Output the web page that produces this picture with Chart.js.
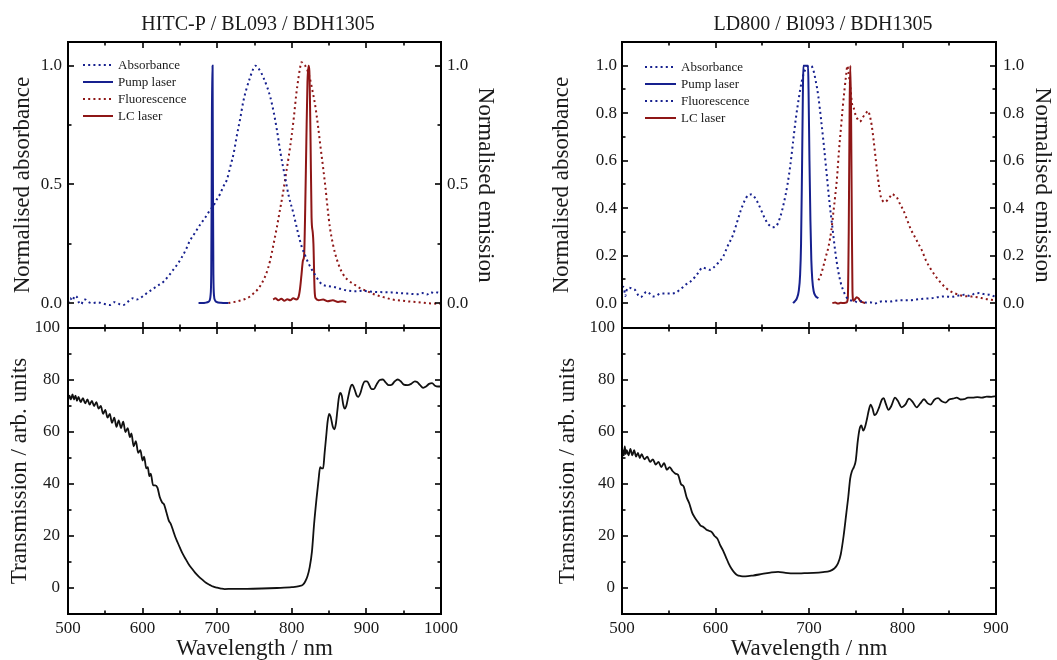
<!DOCTYPE html>
<html><head><meta charset="utf-8">
<script src="https://cdn.jsdelivr.net/npm/chart.js@4.4.1/dist/chart.umd.min.js"></script>
<style>
html,body{margin:0;padding:0;background:#fff;width:1057px;height:660px;overflow:hidden;}
canvas{position:absolute;left:0;top:0;}
</style></head><body>
<canvas id="cA" width="1057" height="660"></canvas>
<canvas id="cB" width="1057" height="660"></canvas>
<canvas id="cC" width="1057" height="660"></canvas>
<canvas id="cD" width="1057" height="660"></canvas>
<script>
// ---------------- DATA ----------------
const titleLeft = 'HITC-P / BL093 / BDH1305';
const titleRight = 'LD800 / Bl093 / BDH1305';
const seriesNames = ['Absorbance', 'Pump laser', 'Fluorescence', 'LC laser'];

// tick values
const wlTicksLeft = [500, 600, 700, 800, 900, 1000];
const wlMinorLeft = [550, 650, 750, 850, 950];
const wlTicksRight = [500, 600, 700, 800, 900];
const wlMinorRight = [550, 650, 750, 850];
const normTicksLeft = [0, 0.5, 1.0];
const normMinorLeft = [0.25, 0.75];
const normTicksRight = [0, 0.2, 0.4, 0.6, 0.8, 1.0];
const normMinorRight = [0.1, 0.3, 0.5, 0.7, 0.9];
const transTicks = [0, 20, 40, 60, 80, 100];
const transMinor = [-10, 10, 30, 50, 70, 90];

// left column (HITC-P): [wavelength nm, value]
const leftAbsorbance = [[500,0.00],[503,0.02],[506,0.01],[509,0.03],[512,0.025],[515,0.0],[518,-0.005],[520,0.01],[523,0.015],[527,0.005],[532,0.0],[540,0.003],[548,-0.003],[556,-0.008],[562,0.004],[566,0.0],[570,-0.006],[574,-0.008],[580,0.005],[587,0.02],[592,0.015],[601,0.03],[607,0.045],[614,0.06],[621,0.075],[628,0.09],[635,0.115],[641,0.14],[647,0.165],[652,0.19],[658,0.225],[663,0.26],[670,0.295],[677,0.33],[685,0.365],[690,0.39],[695,0.41],[700,0.44],[704,0.46],[708,0.49],[713,0.52],[718,0.58],[722,0.63],[726,0.70],[731,0.78],[735,0.85],[739,0.90],[744,0.95],[748,0.985],[751,1.0],[755,0.99],[759,0.97],[762,0.95],[767,0.91],[771,0.87],[776,0.80],[780,0.73],[785,0.63],[791,0.53],[796,0.45],[802,0.38],[808,0.30],[813,0.24],[818,0.20],[822,0.17],[827,0.14],[831,0.12],[836,0.095],[840,0.08],[848,0.072],[856,0.068],[865,0.06],[874,0.053],[885,0.05],[895,0.052],[901,0.05],[912,0.047],[923,0.046],[934,0.045],[945,0.042],[955,0.04],[962,0.038],[968,0.037],[975,0.042],[981,0.036],[986,0.046],[991,0.042],[995,0.045],[1000,0.042]];
const leftPump = [[675,0.0],[680,0.0],[685,0.002],[688,0.005],[690,0.012],[691,0.03],[692,0.12],[692.6,0.5],[693.2,1.0],[693.8,1.0],[694.3,0.5],[694.9,0.12],[695.8,0.03],[697,0.012],[699,0.005],[705,0.001],[715,0.0]];
const leftFluorescence = [[715,0.0],[722,0.004],[730,0.01],[738,0.018],[745,0.03],[750,0.045],[755,0.06],[760,0.085],[764,0.11],[768,0.145],[771,0.18],[775,0.24],[780,0.32],[784,0.39],[788,0.46],[792,0.54],[796,0.62],[800,0.71],[803,0.79],[806,0.88],[809,0.95],[811,0.99],[813,1.015],[815,1.01],[818,1.0],[821,0.98],[824,0.95],[828,0.89],[831,0.84],[835,0.75],[838,0.67],[842,0.57],[845,0.49],[848,0.40],[851,0.32],[855,0.25],[858,0.21],[863,0.16],[869,0.12],[876,0.095],[883,0.08],[892,0.062],[901,0.05],[912,0.035],[923,0.025],[935,0.015],[945,0.011],[956,0.007],[968,0.004],[980,0.0],[990,-0.002],[1000,-0.003]];
const leftLCLaser = [[775,0.015],[778,0.02],[782,0.012],[786,0.018],[790,0.01],[794,0.016],[798,0.012],[802,0.02],[806,0.015],[809,0.025],[811,0.06],[813,0.12],[815,0.18],[816.5,0.2],[818,0.4],[819.5,0.68],[821,0.93],[822.5,1.0],[823.5,0.98],[825,0.72],[826.5,0.36],[828,0.3],[829,0.25],[830.5,0.06],[832,0.02],[836,0.012],[842,0.015],[848,0.008],[855,0.012],[862,0.005],[868,0.008],[873,0.003]];
const leftTransmission = [[500,72],[502,74],[504,72.5],[506,74.5],[508,72.5],[510,74],[512,72],[514,73.5],[517,71.5],[520,73],[523,71],[526,72.5],[529,70.5],[532,72],[535,70],[538,71.5],[541,69],[544,70],[547,67],[550,68.5],[553,65.5],[556,67],[559,63.5],[562,65.5],[565,62],[568,64.5],[571,61.5],[574,64],[577,60],[580,61.5],[583,58],[585,59.5],[588,54.5],[591,56.5],[594,52],[597,53],[600,49],[602,50.5],[605,46],[607,46.5],[609,43],[611,44],[614,39.5],[617,39.5],[620,38.5],[623,35],[626,33],[629,32],[632,29],[635,26],[638,24.5],[641,22],[644,19.5],[647,17.5],[650,15.5],[654,13],[658,11],[662,9],[666,7.5],[670,6],[675,4.5],[680,3.2],[685,2],[690,1.2],[695,0.5],[700,0.1],[705,-0.2],[710,-0.4],[720,-0.3],[740,-0.3],[760,-0.2],[780,0],[800,0.3],[810,0.7],[815,1.3],[818,2.5],[821,4.5],[824,8],[827,14],[830,25],[833,34],[836,42],[838,46.5],[840,46],[842,46],[844,52],[846,58],[848,64],[850,67],[852,66],[855,62],[857,61],[859,63],[861,68],[863,73],[865,75],[867,74],[869,70.5],[871,69],[873,70],[876,74],[879,77.5],[881,78.2],[884,76.5],[887,74],[889,73.5],[892,75],[895,78],[898,79.5],[901,79.5],[904,78],[907,76.5],[910,76.5],[914,78.5],[918,80],[922,80.2],[926,79],[930,78],[934,78.2],[938,79.5],[942,80.2],[946,79.5],[950,78.2],[955,78],[960,78.5],[965,79.5],[968,79.2],[972,78],[976,77],[980,77.5],[984,78.5],[988,78.8],[992,77.8],[996,77.5],[1000,77.5]];

// right column (LD800)
const rightAbsorbance = [[500,0.07],[502,0.065],[503.5,0.03],[505,0.055],[508,0.065],[511,0.06],[514,0.055],[517,0.035],[520,0.025],[523,0.035],[526,0.048],[529,0.042],[533,0.028],[537,0.032],[541,0.04],[546,0.04],[552,0.04],[558,0.045],[563,0.06],[569,0.08],[573,0.09],[578,0.11],[582,0.13],[586,0.15],[590,0.145],[594,0.14],[598,0.15],[603,0.17],[608,0.195],[613,0.24],[619,0.29],[623,0.34],[627,0.39],[631,0.43],[635,0.455],[638,0.458],[641,0.45],[645,0.425],[649,0.39],[653,0.355],[657,0.33],[661,0.32],[665,0.325],[669,0.36],[673,0.42],[677,0.50],[680,0.58],[683,0.68],[686,0.78],[689,0.86],[692,0.93],[695,0.975],[698,0.995],[701,1.0],[704,0.99],[707,0.94],[710,0.87],[713,0.77],[716,0.66],[719,0.54],[722,0.42],[725,0.32],[728,0.22],[731,0.14],[734,0.085],[737,0.05],[740,0.025],[744,0.012],[748,0.01],[752,0.003],[756,0.008],[760,0.002],[765,0.004],[770,-0.002],[775,0.005],[780,0.008],[786,0.006],[792,0.01],[800,0.012],[808,0.012],[815,0.015],[822,0.018],[830,0.02],[838,0.025],[845,0.028],[852,0.026],[860,0.032],[866,0.035],[872,0.03],[877,0.04],[882,0.042],[887,0.038],[893,0.035],[897,0.03],[900,0.026]];
const rightPump = [[683,0.0],[685,0.008],[687,0.02],[689,0.05],[690.5,0.12],[691.5,0.25],[692.5,0.55],[693.5,0.9],[694,1.0],[699,1.0],[699.5,0.9],[700.5,0.6],[701.5,0.35],[702.5,0.18],[703.5,0.1],[705,0.05],[707,0.03],[710,0.02]];
const rightFluorescence = [[710,0.096],[712,0.11],[715,0.15],[718,0.195],[721,0.24],[724,0.31],[726,0.38],[728,0.45],[730,0.53],[732,0.64],[734,0.73],[736,0.82],[738,0.9],[740,0.97],[741,1.0],[742,0.98],[743,0.95],[744.5,0.90],[746,0.84],[748,0.82],[750,0.79],[752,0.775],[754,0.765],[756,0.77],[758,0.785],[761,0.8],[763,0.81],[765,0.79],[767,0.75],[769,0.69],[771,0.62],[773,0.55],[775,0.49],[777,0.445],[779,0.43],[781,0.425],[783,0.43],[785,0.44],[787,0.45],[789,0.46],[791,0.455],[794,0.445],[797,0.42],[801,0.39],[805,0.35],[809,0.31],[813,0.28],[817,0.25],[821,0.22],[825,0.18],[830,0.145],[835,0.115],[840,0.09],[846,0.065],[852,0.048],[858,0.038],[865,0.03],[872,0.028],[880,0.025],[888,0.018],[895,0.014],[900,0.011]];
const rightLCLaser = [[725,0.0],[728,0.002],[731,-0.002],[734,0.001],[737,0.0],[740,0.002],[741.5,0.02],[742.5,0.3],[743.5,0.85],[744.2,1.0],[745,0.8],[745.8,0.35],[746.5,0.05],[747.5,0.01],[749,0.015],[751,0.025],[753,0.02],[755,0.008],[757,0.004],[760,0.0]];
const rightTransmission = [[500,50],[501,53],[502,51],[503,54.5],[504,51.5],[505,53],[507,51],[509,53.5],[511,51],[513,53],[515,50.5],[517,52],[519,50],[521,51.5],[524,49.5],[527,50.5],[530,48.5],[533,49.5],[536,47.5],[539,48.5],[542,46.5],[545,48],[548,45.5],[551,46.5],[554,45],[557,44],[560,43.5],[563,40],[566,39],[569,35],[572,32.5],[575,29],[578,27],[581,25.5],[584,24],[587,23.5],[590,22.5],[593,22],[596,21.5],[599,20],[602,19],[605,16.5],[608,14.5],[611,12],[614,9.5],[617,7.5],[620,6],[623,5],[627,4.6],[632,4.5],[640,4.8],[650,5.4],[660,6],[667,6.2],[675,5.8],[685,5.6],[695,5.7],[705,5.8],[715,6.1],[722,6.5],[727,7.5],[731,9.5],[734,13],[737,20],[740,29],[742,35],[744,42],[746,45],[748,46.5],[750,49],[752,56],[754,61],[756,62.5],[758,60.5],[760,62],[762,65],[764,68.5],[766,70.5],[768,69],[770,66.5],[772,67],[775,69.5],[778,72.5],[780,73],[782,71],[785,68.5],[788,70],[792,73.2],[795,72],[799,69.5],[803,70.5],[807,72.8],[811,71.5],[815,69.5],[819,71],[823,72.6],[827,71],[830,70.5],[834,72.4],[838,73],[842,71.8],[846,71.3],[850,72.5],[854,72.8],[858,73.2],[862,72.5],[866,72.6],[870,73.2],[875,73.2],[880,73.4],[885,73.2],[890,73.6],[895,73.5],[900,73.8]];

// ---------------- STYLE / RENDER ----------------
const FONT = "'Liberation Serif', 'Times New Roman', serif";
const TXT = '#1a1a1a';
const BLUE = '#16208e';
const RED = '#8e1616';
const BLACK = '#111111';
const DOT = [2, 3.2];
Chart.defaults.font.family = FONT;
Chart.defaults.color = TXT;

const toXY = a => a.map(p => ({x: p[0], y: p[1]}));
function ds(label, arr, color, dash, axis, width) {
  return {label, data: toXY(arr), borderColor: color, backgroundColor: color,
    borderWidth: width || 2, borderDash: dash || [], pointRadius: 0, fill: false,
    cubicInterpolationMode: 'monotone', yAxisID: axis, borderCapStyle: 'butt'};
}
function yScale(pos, min, max, ticks, width, title, titlePad, tickPad, fmt) {
  return {type: 'linear', position: pos, min, max,
    afterBuildTicks: s => { s.ticks = ticks.map(v => ({value: v})); },
    afterFit: s => { s.width = width; },
    grid: {display: false, drawTicks: false}, border: {display: false},
    ticks: {padding: tickPad, color: TXT, font: {size: 17}, callback: fmt},
    title: {display: true, text: title, color: TXT, font: {size: 23}, padding: {top: titlePad, bottom: 0}}};
}
function xScale(min, max, ticks, show) {
  if (!show) return {type: 'linear', min, max, display: false};
  return {type: 'linear', position: 'bottom', min, max,
    afterBuildTicks: s => { s.ticks = ticks.map(v => ({value: v})); },
    afterFit: s => { s.height = 46; },
    grid: {display: false, drawTicks: false}, border: {display: false},
    ticks: {padding: 4, color: TXT, font: {size: 17}, maxRotation: 0, autoSkip: false, callback: v => String(v)},
    title: {display: true, text: 'Wavelength / nm', color: TXT, font: {size: 23, lineHeight: 1}, padding: {top: 0, bottom: 0}}};
}

const frameTicks = {
  id: 'frameTicks',
  afterDraw(chart, args, o) {
    const {ctx, chartArea: a} = chart;
    const xs = chart.scales.x, ys = chart.scales.y;
    ctx.save();
    ctx.strokeStyle = '#000';
    const seg = (x1, y1, x2, y2) => { ctx.beginPath(); ctx.moveTo(x1, y1); ctx.lineTo(x2, y2); ctx.stroke(); };
    const drawX = (vals, len) => vals.forEach(v => { const p = Math.round(xs.getPixelForValue(v)); seg(p, a.bottom, p, a.bottom - len); seg(p, a.top, p, a.top + len); });
    const drawY = (vals, len) => vals.forEach(v => { const p = Math.round(ys.getPixelForValue(v)); seg(a.left, p, a.left + len, p); seg(a.right, p, a.right - len, p); });
    ctx.lineWidth = 1.6;
    drawX(o.xMajor, 6); drawX(o.xMinor, 3.5);
    drawY(o.yMajor, 6); drawY(o.yMinor, 3.5);
    ctx.lineWidth = 2;
    ctx.strokeRect(a.left, a.top, a.right - a.left, a.bottom - a.top);
    ctx.restore();
  }
};
const deco = {
  id: 'deco',
  afterDraw(chart, args, o) {
    const ctx = chart.ctx;
    ctx.save();
    if (o.title) {
      ctx.font = '20px ' + FONT; ctx.fillStyle = TXT; ctx.textAlign = 'center'; ctx.textBaseline = 'alphabetic';
      ctx.fillText(o.title.text, o.title.x, o.title.y);
    }
    if (o.legend) {
      const L = o.legend;
      chart.data.datasets.forEach((d, i) => {
        const y = L.y + i * L.dy;
        ctx.strokeStyle = (L.colors && L.colors[i]) || d.borderColor;
        ctx.lineWidth = 2; ctx.setLineDash(d.borderDash || []);
        ctx.beginPath(); ctx.moveTo(L.x, y); ctx.lineTo(L.x + L.len, y); ctx.stroke();
        ctx.setLineDash([]);
        ctx.fillStyle = TXT; ctx.font = '13px ' + FONT; ctx.textAlign = 'left'; ctx.textBaseline = 'middle';
        ctx.fillText(d.label, L.x + L.len + 5, y + 0.5);
      });
    }
    ctx.restore();
  }
};
const common = {responsive: false, animation: false, devicePixelRatio: 1, events: []};
const f1 = v => v.toFixed(1);
const f0 = v => String(v);

// Panel A: left top
new Chart(document.getElementById('cA'), {
  type: 'line',
  data: {datasets: [
    ds(seriesNames[0], leftAbsorbance, BLUE, DOT, 'y'),
    ds(seriesNames[1], leftPump, BLUE, null, 'y'),
    ds(seriesNames[2], leftFluorescence, RED, DOT, 'y2'),
    ds(seriesNames[3], leftLCLaser, RED, null, 'y2')]},
  options: Object.assign({}, common, {
    layout: {padding: {left: 0, right: 556, top: 42, bottom: 332}},
    scales: {
      x: xScale(500, 1000, wlTicksLeft, false),
      y: yScale('left', -0.105, 1.1, normTicksLeft, 68, 'Normalised absorbance', 9, 6, f1),
      y2: yScale('right', -0.105, 1.1, normTicksLeft, 60, 'Normalised emission', 2, 6, f1)},
    plugins: {legend: {display: false}, tooltip: {enabled: false},
      frameTicks: {xMajor: wlTicksLeft, xMinor: wlMinorLeft, yMajor: normTicksLeft, yMinor: normMinorLeft},
      deco: {title: {text: titleLeft, x: 258, y: 30}, legend: {x: 83, y: 65, dy: 17, len: 30}}}
  }),
  plugins: [frameTicks, deco]
});

// Panel B: right top
new Chart(document.getElementById('cB'), {
  type: 'line',
  data: {datasets: [
    ds(seriesNames[0], rightAbsorbance, BLUE, DOT, 'y'),
    ds(seriesNames[1], rightPump, BLUE, null, 'y'),
    ds(seriesNames[2], rightFluorescence, RED, DOT, 'y2'),
    ds(seriesNames[3], rightLCLaser, RED, null, 'y2')]},
  options: Object.assign({}, common, {
    layout: {padding: {left: 548, right: 1, top: 42, bottom: 332}},
    scales: {
      x: xScale(500, 900, wlTicksRight, false),
      y: yScale('left', -0.105, 1.1, normTicksRight, 74, 'Normalised absorbance', 0, 5, f1),
      y2: yScale('right', -0.105, 1.1, normTicksRight, 60, 'Normalised emission', 0, 7, f1)},
    plugins: {legend: {display: false}, tooltip: {enabled: false},
      frameTicks: {xMajor: wlTicksRight, xMinor: wlMinorRight, yMajor: normTicksRight, yMinor: normMinorRight},
      deco: {title: {text: titleRight, x: 823, y: 30}, legend: {x: 645, y: 67, dy: 17, len: 31, colors: [null, null, BLUE, null]}}}
  }),
  plugins: [frameTicks, deco]
});

// Panel C: left bottom
new Chart(document.getElementById('cC'), {
  type: 'line',
  data: {datasets: [ds('Transmission', leftTransmission, BLACK, null, 'y', 1.8)]},
  options: Object.assign({}, common, {
    layout: {padding: {left: 0, right: 616, top: 328, bottom: 0}},
    scales: {
      x: xScale(500, 1000, wlTicksLeft, true),
      y: yScale('left', -10, 100, transTicks, 68, 'Transmission / arb. units', 6, 8, f0)},
    plugins: {legend: {display: false}, tooltip: {enabled: false},
      frameTicks: {xMajor: wlTicksLeft, xMinor: wlMinorLeft, yMajor: transTicks, yMinor: transMinor}}
  }),
  plugins: [frameTicks]
});

// Panel D: right bottom
new Chart(document.getElementById('cD'), {
  type: 'line',
  data: {datasets: [ds('Transmission', rightTransmission, BLACK, null, 'y', 1.8)]},
  options: Object.assign({}, common, {
    layout: {padding: {left: 554, right: 61, top: 328, bottom: 0}},
    scales: {
      x: xScale(500, 900, wlTicksRight, true),
      y: yScale('left', -10, 100, transTicks, 68, 'Transmission / arb. units', 0, 7, f0)},
    plugins: {legend: {display: false}, tooltip: {enabled: false},
      frameTicks: {xMajor: wlTicksRight, xMinor: wlMinorRight, yMajor: transTicks, yMinor: transMinor}}
  }),
  plugins: [frameTicks]
});
</script>
</body></html>
